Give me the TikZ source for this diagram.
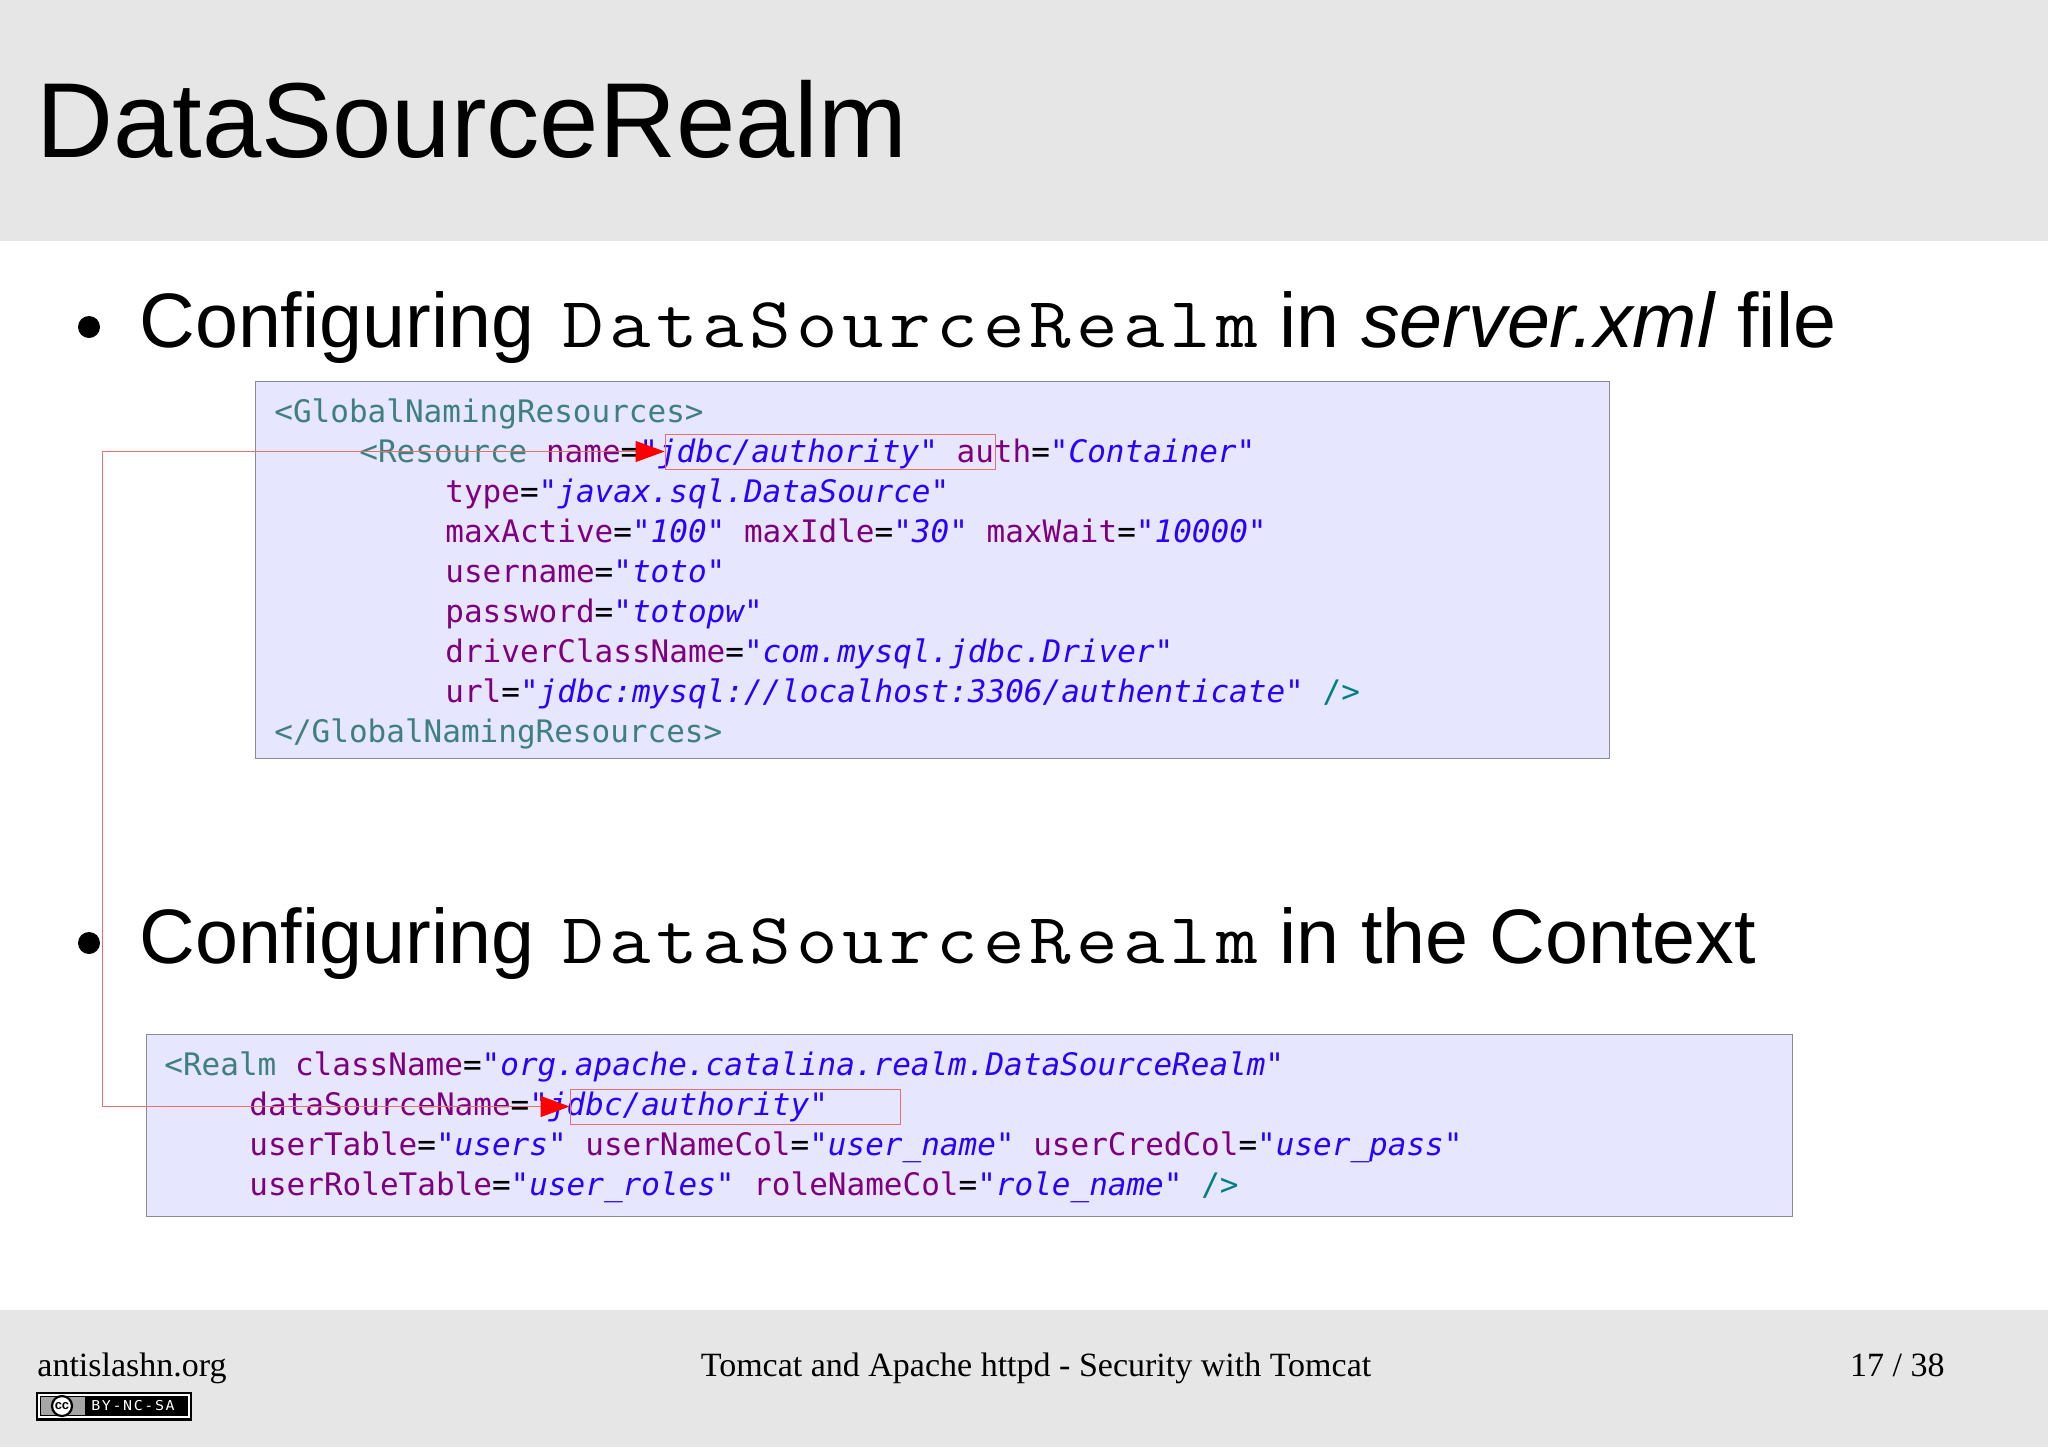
\documentclass[tikz,border=0pt]{standalone}
\usepackage{fontspec}
\setmainfont{Liberation Serif}
\setsansfont{Liberation Sans}
\newfontfamily\codefont{DejaVu Sans Mono}
\newfontfamily\slabmono{Latin Modern Mono}[FakeStretch=1.12,LetterSpace=7.2]
\newfontfamily\badgefont{DejaVu Sans Mono}[FakeStretch=1.1,LetterSpace=12]
\usetikzlibrary{arrows.meta}
\definecolor{bandgrey}{HTML}{E6E6E6}
\definecolor{codebg}{HTML}{E6E6FF}
\definecolor{codeborder}{HTML}{8A8A94}
\definecolor{tagcol}{HTML}{3F7F7F}
\definecolor{attrcol}{HTML}{7F007F}
\definecolor{strcol}{HTML}{2A00FF}
\definecolor{endcol}{HTML}{008080}
\definecolor{linkcol}{HTML}{E87070}
\newcommand{\cTag}[1]{\textcolor{tagcol}{#1}}
\newcommand{\cAttr}[1]{\textcolor{attrcol}{#1}}
\newcommand{\cStr}[1]{\textcolor{strcol}{\textit{#1}}}
\newcommand{\cEnd}[1]{\textcolor{endcol}{#1}}
\newcommand{\cMono}[1]{\hspace{3.5pt}{\fontsize{36}{40}\slabmono #1}}
\tikzset{
  titletext/.style={anchor=base west,inner sep=0pt,font=\sffamily\fontsize{53.3}{54}\selectfont},
  bullettext/.style={anchor=base west,inner sep=0pt,font=\sffamily\fontsize{38.6}{40}\selectfont},
  bulletdot/.style={circle,fill=black,inner sep=0pt,minimum size=11pt},
  codebox/.style={draw=codeborder,fill=codebg,line width=0.5pt,inner sep=0pt},
  codeline/.style={anchor=base west,inner sep=0pt,font=\codefont\fontsize{15.5}{18}\selectfont},
  foot/.style={inner sep=0pt,anchor=base,font=\rmfamily\fontsize{17}{20}\selectfont},
  hl/.style={draw=linkcol,line width=0.4pt,inner sep=0pt},
  linkline/.style={draw=linkcol,line width=0.4pt,-{Triangle[length=14.5pt,width=10.5pt,color=red]}},
}
\begin{document}
\begin{tikzpicture}[x=0.5pt,y=-0.5pt]
\useasboundingbox (0,0) rectangle (2048,1447);
\fill[white] (0,0) rectangle (2048,1447);
\fill[bandgrey] (0,0) rectangle (2048,241);
\fill[bandgrey] (0,1310) rectangle (2048,1447);
\node[titletext] (title) at (36,157) {DataSourceRealm};

\node[bulletdot] (b1) at (89,327) {};
\node[bullettext] (t1) at (139,347) {Configuring \cMono{DataSourceRealm} in \textit{server.xml} file};
\node[bulletdot] (b2) at (89,943) {};
\node[bullettext] (t2) at (139,963) {Configuring \cMono{DataSourceRealm} in the Context};

\node[codebox,minimum width=677pt,minimum height=188.5pt] (box1) at (932,569.5) {};
\node[codeline] (l1) at (274,422) {\cTag{<GlobalNamingResources>}};
\node[codeline] (l2) at (359,462) {\cTag{<Resource} \cAttr{name}=\cStr{"jdbc/authority"} \cAttr{auth}=\cStr{"Container"}};
\node[codeline] (l3) at (445,502) {\cAttr{type}=\cStr{"javax.sql.DataSource"}};
\node[codeline] (l4) at (445,542) {\cAttr{maxActive}=\cStr{"100"} \cAttr{maxIdle}=\cStr{"30"} \cAttr{maxWait}=\cStr{"10000"}};
\node[codeline] (l5) at (445,582) {\cAttr{username}=\cStr{"toto"}};
\node[codeline] (l6) at (445,622) {\cAttr{password}=\cStr{"totopw"}};
\node[codeline] (l7) at (445,662) {\cAttr{driverClassName}=\cStr{"com.mysql.jdbc.Driver"}};
\node[codeline] (l8) at (445,702) {\cAttr{url}=\cStr{"jdbc:mysql://localhost:3306/authenticate"} \cEnd{/>}};
\node[codeline] (l9) at (274,742) {\cTag{</GlobalNamingResources>}};

\node[codebox,minimum width=823pt,minimum height=91pt] (box2) at (969,1125) {};
\node[codeline] (m1) at (164,1075) {\cTag{<Realm} \cAttr{className}=\cStr{"org.apache.catalina.realm.DataSourceRealm"}};
\node[codeline] (m2) at (249,1115) {\cAttr{dataSourceName}=\cStr{"jdbc/authority"}};
\node[codeline] (m3) at (249,1155) {\cAttr{userTable}=\cStr{"users"} \cAttr{userNameCol}=\cStr{"user\_name"} \cAttr{userCredCol}=\cStr{"user\_pass"}};
\node[codeline] (m4) at (249,1195) {\cAttr{userRoleTable}=\cStr{"user\_roles"} \cAttr{roleNameCol}=\cStr{"role\_name"} \cEnd{/>}};

\node[hl,minimum width=165pt,minimum height=17.5pt] (r1) at (830,451.5) {};
\node[hl,minimum width=165pt,minimum height=17.5pt] (r2) at (735,1106.5) {};
\coordinate (lane) at (102,780);
\draw[linkline] (lane |- r1.west) -- (r1.west);
\draw[linkline] (lane |- r1.west) -- (lane |- r2.west) -- (r2.west);

\node[foot] (f1) at (132,1376) {antislashn.org};
\node[foot] (f2) at (1036,1376) {Tomcat and Apache httpd - Security with Tomcat};
\node[foot,anchor=base east] (f3) at (1945,1376) {17 / 38};

\node[draw=black,fill=black,line width=1pt,minimum width=77pt,minimum height=13.5pt,inner sep=0pt] (badge) at (114,1406) {};
\draw[white,line width=0.7pt] (39,1395) rectangle (189,1417);
\fill[black!35] (41,1397) rectangle (85,1415);
\node[circle,draw=black,line width=1.1pt,fill=white,minimum size=10pt,inner sep=0pt,font=\sffamily\bfseries\fontsize{6.5}{6.5}\selectfont] (cc) at (62,1406) {cc};
\node[inner sep=0pt,text=white,font=\badgefont\fontsize{6.8}{8}\selectfont] (lic) at (133,1406) {BY-NC-SA};
\end{tikzpicture}
\end{document}
